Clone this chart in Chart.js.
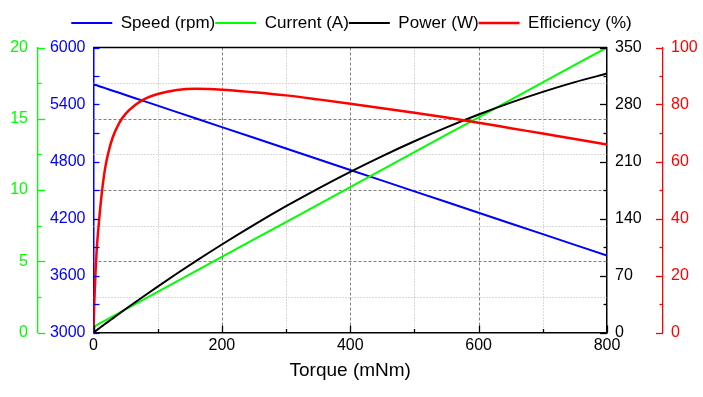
<!DOCTYPE html>
<html lang="en">
<head>
    <meta charset="UTF-8">
    <title>Motor Characteristics</title>
    <script src="https://cdn.jsdelivr.net/npm/chart.js@4"></script>
    <style>
        html, body {
            margin: 0;
            padding: 0;
            background: #ffffff;
        }

        .container {
            width: 703px;
            height: 397px;
        }
    </style>
</head>
<body>

    <div class="container">
        <canvas id="motorChart"></canvas>
    </div>

    <script>
        // torque samples (mNm)
        const torque = [0, 1, 2, 3, 5, 7, 10, 14, 18, 23, 30, 40, 50, 65, 80, 100, 130, 160,
                        200, 250, 300, 350, 400, 450, 500, 550, 600, 650, 700, 750, 800];

        // speed (rpm), left blue axis
        const speed = [5613, 5611, 5608, 5606, 5602, 5597, 5590, 5581, 5572, 5561, 5545, 5523, 5500, 5466, 5433, 5388, 5320, 5252,
                       5162, 5050, 4937, 4824, 4711, 4599, 4486, 4373, 4260, 4148, 4035, 3922, 3810];

        // current (A), left green axis
        const current = [0.40, 0.42, 0.45, 0.47, 0.52, 0.57, 0.65, 0.74, 0.84, 0.96, 1.14, 1.38, 1.63, 1.99, 2.36, 2.85, 3.59, 4.32,
                         5.30, 6.53, 7.75, 8.98, 10.20, 11.43, 12.65, 13.88, 15.10, 16.33, 17.55, 18.78, 20.00];

        // output power (W), right black axis
        const power = [0, 0.6, 1.2, 1.8, 2.9, 4.1, 5.9, 8.2, 10.5, 13.4, 17.4, 23.1, 28.8, 37.2, 45.5, 56.4, 72.4, 88.0,
                       108.1, 132.2, 155.1, 176.8, 197.3, 216.7, 234.9, 251.9, 267.7, 282.3, 295.5, 307.5, 318.0];

        // efficiency (%), right red axis
        const efficiency = [0, 9, 15, 20.5, 29, 35, 42.5, 51, 57.5, 63, 68.5, 73.5, 76.7, 79.8, 82.0, 83.7, 85.1, 85.5,
                            85.2, 84.3, 83.2, 81.8, 80.3, 78.7, 77.1, 75.4, 73.6, 71.7, 69.8, 67.9, 66.0];

        const seriesLabels = ['Speed (rpm)', 'Current (A)', 'Power (W)', 'Efficiency (%)'];

        const points = values => torque.map((t, i) => ({ x: t, y: values[i] }));

        Chart.defaults.font.family = "'Liberation Sans', Arial, sans-serif";
        Chart.defaults.font.size = 16;
        Chart.defaults.color = '#000000';

        // legend draws 6px taller so the plot starts a little lower
        const legendGap = {
            id: 'legendGap',
            afterInit(chart) {
                const fit = chart.legend.fit;
                chart.legend.fit = function () {
                    fit.call(this);
                    this.height += 6;
                };
            }
        };

        function tickMarks(ctx, scale, step, minorLen, majorLen, from, dir, horizontal) {
            for (let v = scale.min; v <= scale.max + 1e-9; v += step / 2) {
                const major = Math.abs(Math.round(v / step) * step - v) < 1e-6;
                const len = major ? majorLen : minorLen;
                const p = Math.round(scale.getPixelForValue(v)) + 0.5;
                ctx.beginPath();
                if (horizontal) {
                    ctx.moveTo(p, from);
                    ctx.lineTo(p, from + dir * len);
                } else {
                    ctx.moveTo(from, p);
                    ctx.lineTo(from + dir * len, p);
                }
                ctx.stroke();
            }
        }

        const frameAndGrid = {
            id: 'frameAndGrid',
            beforeDatasetsDraw(chart) {
                const { ctx, chartArea: area, scales } = chart;
                ctx.save();
                ctx.lineWidth = 1;

                // vertical grid every 100 mNm
                for (let t = 100; t < scales.x.max; t += 100) {
                    const major = t % 200 === 0;
                    const px = Math.round(scales.x.getPixelForValue(t)) + 0.5;
                    ctx.strokeStyle = major ? '#808080' : '#b4b4b4';
                    ctx.setLineDash(major ? [3, 2] : [1, 2]);
                    ctx.beginPath();
                    ctx.moveTo(px, area.top);
                    ctx.lineTo(px, area.bottom);
                    ctx.stroke();
                }

                // horizontal grid follows the current axis, every 2.5 A
                for (let a = 2.5; a < scales.yCurrent.max; a += 2.5) {
                    const major = a % 5 === 0;
                    const py = Math.round(scales.yCurrent.getPixelForValue(a)) + 0.5;
                    ctx.strokeStyle = major ? '#808080' : '#b4b4b4';
                    ctx.setLineDash(major ? [3, 2] : [1, 2]);
                    ctx.beginPath();
                    ctx.moveTo(area.left, py);
                    ctx.lineTo(area.right, py);
                    ctx.stroke();
                }
                ctx.restore();
            },
            afterDatasetsDraw(chart) {
                const { ctx, chartArea: area, scales } = chart;
                ctx.save();
                ctx.lineWidth = 1.5;

                // top edge of the frame
                ctx.strokeStyle = '#000000';
                ctx.beginPath();
                ctx.moveTo(area.left, area.top);
                ctx.lineTo(area.right, area.top);
                ctx.stroke();

                // tick marks, all pointing towards the plot
                ctx.lineWidth = 1.3;
                ctx.strokeStyle = '#000000';
                tickMarks(ctx, scales.x, 200, 3.5, 7, area.bottom, -1, true);
                tickMarks(ctx, scales.yPower, 70, 3.5, 7, area.right, -1, false);
                ctx.strokeStyle = '#0000ff';
                tickMarks(ctx, scales.ySpeed, 600, 6, 6, area.left, 1, false);
                ctx.strokeStyle = '#00ff00';
                tickMarks(ctx, scales.yCurrent, 5, 3.5, 7, scales.yCurrent.right, 1, false);
                ctx.strokeStyle = '#ff0000';
                tickMarks(ctx, scales.yEff, 20, 3.5, 7, scales.yEff.left, -1, false);
                ctx.restore();
            }
        };

        const ctx = document.getElementById('motorChart').getContext('2d');

        const motorChart = new Chart(ctx, {
            type: 'line',
            data: {
                datasets: [
                    {
                        label: seriesLabels[0],
                        data: points(speed),
                        yAxisID: 'ySpeed',
                        borderColor: '#0000ff',
                        backgroundColor: '#0000ff',
                        borderWidth: 2,
                        order: 4
                    },
                    {
                        label: seriesLabels[1],
                        data: points(current),
                        yAxisID: 'yCurrent',
                        borderColor: '#00ff00',
                        backgroundColor: '#00ff00',
                        borderWidth: 2,
                        order: 3
                    },
                    {
                        label: seriesLabels[2],
                        data: points(power),
                        yAxisID: 'yPower',
                        borderColor: '#000000',
                        backgroundColor: '#000000',
                        borderWidth: 2,
                        cubicInterpolationMode: 'monotone',
                        order: 2
                    },
                    {
                        label: seriesLabels[3],
                        data: points(efficiency),
                        yAxisID: 'yEff',
                        borderColor: '#ff0000',
                        backgroundColor: '#ff0000',
                        borderWidth: 2.5,
                        cubicInterpolationMode: 'monotone',
                        order: 1
                    }
                ]
            },
            options: {
                responsive: true,
                maintainAspectRatio: false,
                animation: false,
                elements: {
                    point: { radius: 0 }
                },
                layout: {
                    padding: { top: 14.5, left: 0, right: 0, bottom: 0 }
                },
                plugins: {
                    legend: {
                        position: 'top',
                        labels: {
                            boxWidth: 41,
                            boxHeight: 0,
                            padding: 0,
                            color: '#000000',
                            font: { size: 17 },
                            sort: (a, b) => a.datasetIndex - b.datasetIndex
                        }
                    },
                    tooltip: { enabled: false }
                },
                scales: {
                    x: {
                        type: 'linear',
                        min: 0,
                        max: 800,
                        ticks: { stepSize: 200, padding: 3, color: '#000000' },
                        grid: { display: false, drawTicks: false },
                        border: { color: '#000000', width: 1.5 },
                        title: {
                            display: true,
                            text: 'Torque (mNm)',
                            color: '#000000',
                            font: { size: 19 },
                            padding: { top: 0, bottom: 15 }
                        },
                        afterFit(scale) { scale.height = 64.5; }
                    },
                    ySpeed: {
                        position: 'left',
                        weight: 0,
                        min: 3000,
                        max: 6000,
                        ticks: {
                            stepSize: 600,
                            padding: 8,
                            color: '#0000ff',
                            format: { useGrouping: false }
                        },
                        grid: { display: false, drawTicks: false },
                        border: { color: '#0000ff', width: 1.5 },
                        afterFit(scale) { scale.width = 55.5; }
                    },
                    yCurrent: {
                        position: 'left',
                        weight: 1,
                        min: 0,
                        max: 20,
                        ticks: { stepSize: 5, padding: 10, color: '#00ff00' },
                        grid: { display: false, drawTicks: false },
                        border: { color: '#00ff00', width: 1.3 },
                        afterFit(scale) { scale.width = 38; }
                    },
                    yPower: {
                        position: 'right',
                        weight: 0,
                        min: 0,
                        max: 350,
                        ticks: { stepSize: 70, padding: 8, color: '#000000' },
                        grid: { display: false, drawTicks: false },
                        border: { color: '#000000', width: 1.5 },
                        afterFit(scale) { scale.width = 56; }
                    },
                    yEff: {
                        position: 'right',
                        weight: 1,
                        min: 0,
                        max: 100,
                        ticks: { stepSize: 20, padding: 8, color: '#ff0000' },
                        grid: { display: false, drawTicks: false },
                        border: { color: '#ff0000', width: 1.3 },
                        afterFit(scale) { scale.width = 40; }
                    }
                }
            },
            plugins: [legendGap, frameAndGrid]
        });
    </script>

</body>
</html>
